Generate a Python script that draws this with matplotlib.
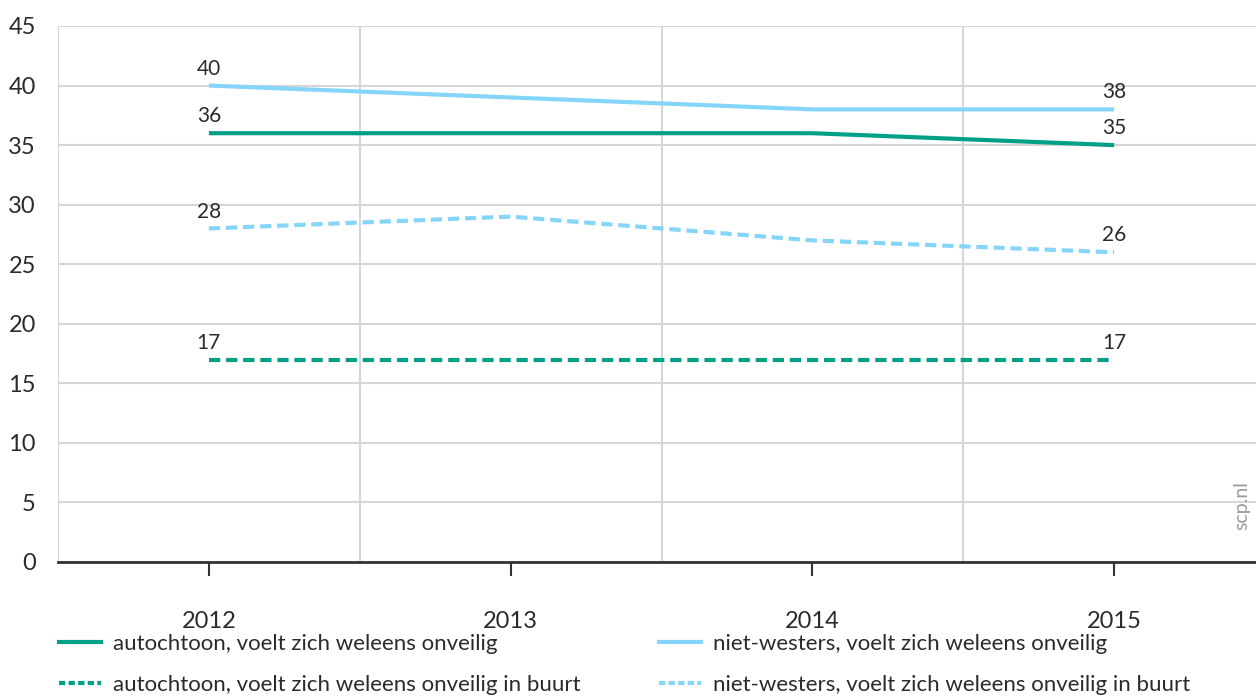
import matplotlib.pyplot as plt
from matplotlib.lines import Line2D

plt.rcParams['font.family'] = ['Lato', 'DejaVu Sans']

jaren = ['2012', '2013', '2014', '2015']
autochtoon_onveilig = [36, 36, 36, 35]
westers_onveilig = [40, 39, 38, 38]
autochtoon_buurt = [17, 17, 17, 17]
westers_buurt = [28, 29, 27, 26]

groen = '#00a088'
blauw = '#84d5f8'
tekst = '#2b2b2b'

fig = plt.figure(figsize=(12.56, 6.98), dpi=100)
ax = fig.add_axes([58 / 1256, 136 / 698, 1198 / 1256, 536 / 698])

x = range(len(jaren))
series = [
    (westers_onveilig, blauw, '-', 'niet-westers, voelt zich weleens onveilig'),
    (autochtoon_onveilig, groen, '-', 'autochtoon, voelt zich weleens onveilig'),
    (westers_buurt, blauw, '--', 'niet-westers, voelt zich weleens onveilig in buurt'),
    (autochtoon_buurt, groen, '--', 'autochtoon, voelt zich weleens onveilig in buurt'),
]
handles = {}
for waarden, kleur, stijl, naam in series:
    lijn, = ax.plot(x, waarden, color=kleur, lw=3, ls=stijl, solid_capstyle='butt', zorder=3)
    if stijl == '--':
        lijn.set_dashes((2.7, 1.4))
    handles[naam] = lijn
    # waarde boven eerste en laatste punt
    for i in (0, len(waarden) - 1):
        ax.annotate(str(waarden[i]), (i, waarden[i]), xytext=(0, 5), textcoords='offset points',
                    ha='center', va='bottom', fontsize=15, color=tekst)

ax.set_xlim(-0.5, 3.47)
ax.set_ylim(0, 45)
ax.set_yticks(range(0, 46, 5))
ax.set_xticks(list(x))
ax.set_xticklabels(jaren)
ax.set_xticks([-0.5, 0.5, 1.5, 2.5], minor=True)

ax.grid(axis='y', color='#d6d6d6', lw=1.5)
ax.grid(axis='x', which='minor', color='#d6d6d6', lw=1.5)
ax.grid(axis='x', which='major', visible=False)
ax.set_axisbelow(True)

for kant in ('top', 'right', 'left'):
    ax.spines[kant].set_visible(False)
ax.spines['bottom'].set_color('#333333')
ax.spines['bottom'].set_linewidth(2)
ax.tick_params(axis='y', length=0, pad=16, labelsize=17, labelcolor=tekst)
ax.tick_params(axis='x', which='major', length=10, width=1.5, color='#333333',
               pad=25, labelsize=17, labelcolor=tekst)
ax.tick_params(axis='x', which='minor', length=0)

ax.text(0.995, 0.06, 'scp.nl', transform=ax.transAxes, rotation=90, ha='right', va='bottom',
        fontsize=14, color='#9a9a9a')

volgorde = ['autochtoon, voelt zich weleens onveilig',
            'autochtoon, voelt zich weleens onveilig in buurt',
            'niet-westers, voelt zich weleens onveilig',
            'niet-westers, voelt zich weleens onveilig in buurt']
leg_handles = []
for naam in volgorde:
    h = handles[naam]
    lh = Line2D([], [], color=h.get_color(), lw=3, ls=h.get_linestyle())
    if h.get_linestyle() == '--':
        lh.set_dashes((1.5, 0.8))
    leg_handles.append(lh)
fig.legend(leg_handles, volgorde, ncol=2, loc='upper left', bbox_to_anchor=(39 / 1256, 1 - 614 / 698),
           frameon=False, fontsize=16, handlelength=1.9, handletextpad=0.55, columnspacing=3.5,
           labelspacing=0.95, labelcolor=tekst)

fig.savefig('out.png', dpi=100)
